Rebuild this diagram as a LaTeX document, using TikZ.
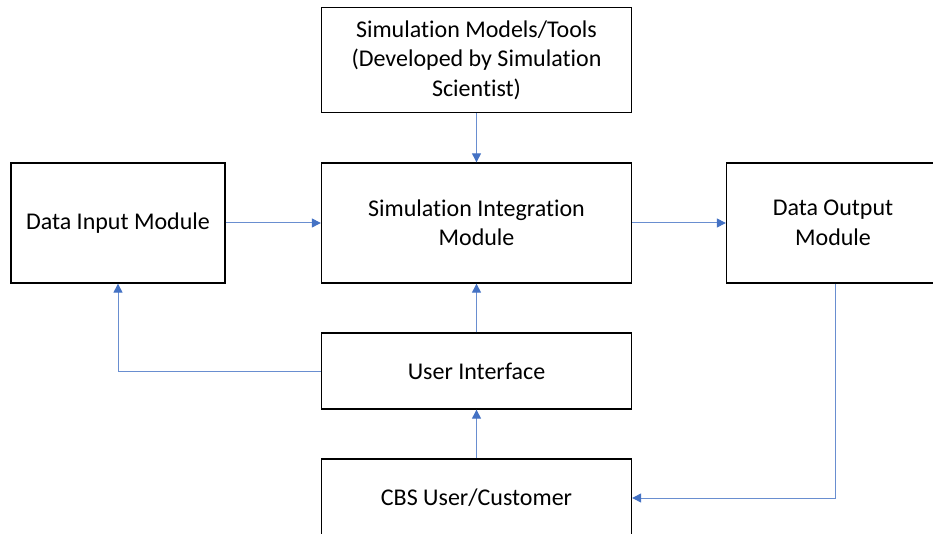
\documentclass[tikz,border=0pt]{standalone}
\usepackage{fontspec}
\setmainfont[Ligatures=NoCommon]{Carlito}
\usetikzlibrary{arrows.meta,positioning}
\definecolor{linkblue}{RGB}{68,114,196}
\tikzset{
  block/.style={
    draw=black,
    line width=1.3pt,
    align=center,
    inner sep=0pt,
    font=\fontsize{24}{29.5}\selectfont
  },
  link/.style={
    draw=linkblue!80,
    line width=1pt,
    -{Triangle[length=9pt,width=9pt,color=linkblue]}
  },
}
\begin{document}
\begin{tikzpicture}[x=1pt,y=-1pt]
  \useasboundingbox (0,0) rectangle (933,534);
  \node[block,minimum width=310pt,minimum height=105pt] (models) at (476.5,60)
    {\raisebox{-2pt}{\parbox{300pt}{\centering Simulation Models/Tools\\(Developed by Simulation\\Scientist)}}};
  \node[block,minimum width=214pt,minimum height=120pt] (input) at (118,223) {Data Input Module};
  \node[block,minimum width=310pt,minimum height=120pt] (integ) at (476.5,223)
    {Simulation Integration\\Module};
  \node[block,minimum width=213pt,minimum height=120pt] (output) at (833,223)
    {Data Output\\Module};
  \node[block,minimum width=310pt,minimum height=76pt] (ui) at (476.5,371) {User Interface};
  \node[block,minimum width=310pt,minimum height=78pt] (user) at (476.5,498) {CBS User/Customer};
  % connectors
  \draw[link] (models) -- (integ);
  \draw[link] (input) -- (integ);
  \draw[link] (integ) -- (output);
  \draw[link] (ui) -- (integ);
  \draw[link] (user) -- (ui);
  \draw[link] (ui.west) -| (input.south);
  \draw[link] ([xshift=2pt]output.south) |- (user.east);
\end{tikzpicture}
\end{document}
